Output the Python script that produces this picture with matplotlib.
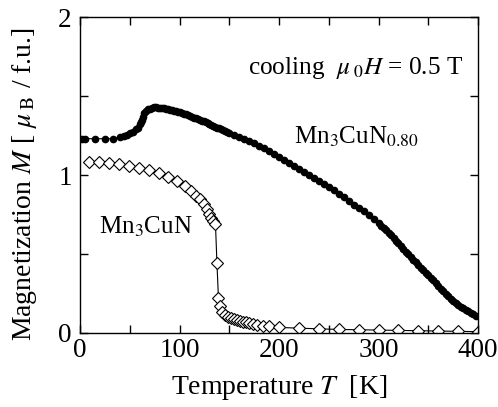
import numpy as np
import matplotlib
matplotlib.use('Agg')
from matplotlib import pyplot as plt
from matplotlib.ticker import MultipleLocator, FuncFormatter

# Mn3CuN0.80 (filled circles)
t_080 = [2, 5, 15, 25, 33, 40, 44, 47, 50, 53, 56, 58, 60, 61, 62, 63, 64, 66, 68,
         70, 72, 74, 76, 78, 80, 82, 84, 86, 88, 90, 92, 94, 96, 98, 100,
         102, 104, 106, 108, 110, 112, 114, 116, 118, 120, 122, 124, 126, 128, 130,
         132, 134, 136, 138, 140, 142, 144, 146, 148, 150,
         155, 160, 165, 170, 175, 180, 185, 190, 195, 200, 205, 210, 215, 220, 225,
         230, 235, 240, 245, 250, 255, 260, 265, 270, 275, 280, 285, 290, 295, 300,
         302.5, 305, 307.5, 310, 312.5, 315, 317.5, 320, 322.5, 325, 327.5, 330,
         332.5, 335, 337.5, 340, 342.5, 345, 347.5, 350, 352.5, 355, 357.5, 360,
         362.5, 365, 367.5, 370, 372.5, 375, 377.5, 380, 382.5, 385, 387.5, 390,
         392.5, 395, 397.5]
m_080 = [1.23, 1.23, 1.23, 1.23, 1.23, 1.24, 1.245, 1.255, 1.265, 1.275, 1.29, 1.30, 1.32,
         1.335, 1.35, 1.37, 1.39, 1.405, 1.415,
         1.42, 1.425, 1.428, 1.428, 1.427, 1.426, 1.424, 1.422, 1.42, 1.417, 1.414,
         1.411, 1.408, 1.405, 1.402, 1.399,
         1.394, 1.389, 1.384, 1.379, 1.374, 1.369, 1.364, 1.359, 1.354, 1.349, 1.344,
         1.339, 1.333, 1.328, 1.322,
         1.317, 1.311, 1.306, 1.300, 1.295, 1.289, 1.284, 1.278, 1.272, 1.267,
         1.253, 1.240, 1.227, 1.213, 1.200, 1.185, 1.170, 1.152, 1.133, 1.115, 1.095,
         1.077, 1.057, 1.037, 1.017,
         1.0, 0.98, 0.962, 0.942, 0.922, 0.902, 0.882, 0.858, 0.835, 0.812, 0.792,
         0.770, 0.745, 0.720, 0.695,
         0.68, 0.665, 0.65, 0.635, 0.62, 0.602, 0.585, 0.567, 0.548, 0.53, 0.513,
         0.497, 0.48, 0.463, 0.447, 0.43, 0.414, 0.398, 0.382, 0.366, 0.35, 0.334,
         0.316, 0.298, 0.28, 0.263, 0.247, 0.232, 0.217, 0.203, 0.19, 0.178, 0.167,
         0.156, 0.146, 0.136, 0.126, 0.117, 0.108]

# Mn3CuN (open diamonds)
t_cun = [9, 19, 29, 39, 49, 59, 69, 79, 88, 97, 105, 111, 116, 120, 124, 127, 130,
         132, 134, 136, 137.5, 139, 141, 143, 146, 149, 152, 155, 158, 161, 164, 167,
         170, 174, 178, 184, 190, 200, 220, 240, 260, 280, 300, 320, 340, 360, 380, 400]
m_cun = [1.08, 1.08, 1.075, 1.068, 1.057, 1.045, 1.03, 1.01, 0.99, 0.96, 0.93, 0.90,
         0.87, 0.845, 0.815, 0.785, 0.755, 0.73, 0.71, 0.69, 0.44, 0.22, 0.17, 0.135,
         0.115, 0.10, 0.093, 0.087, 0.082, 0.077, 0.072, 0.067, 0.062, 0.057, 0.052,
         0.046, 0.041, 0.035, 0.03, 0.026, 0.022, 0.02, 0.018, 0.016, 0.014, 0.012,
         0.01, 0.008]

plt.rcParams['font.family'] = 'serif'
plt.rcParams['font.serif'] = ['Liberation Serif', 'DejaVu Serif']
plt.rcParams['mathtext.fontset'] = 'stix'

fig = plt.figure(figsize=(4.98, 4.07), dpi=100)
ax = fig.add_axes([0.161, 0.182, 0.799, 0.776])

ax.plot(t_080, m_080, '-o', color='black', lw=0.8, ms=4.5, mfc='black', mec='black')
ax.plot(t_cun, m_cun, '-D', color='black', lw=0.8, ms=6, mfc='white', mec='black',
        mew=0.8)

ax.set_xlim(0, 400)
ax.set_ylim(0, 2)
ax.xaxis.set_major_locator(MultipleLocator(50))
ax.yaxis.set_major_locator(MultipleLocator(0.5))
ax.xaxis.set_major_formatter(FuncFormatter(lambda v, p: '%d' % v if v % 100 == 0 else ''))
ax.yaxis.set_major_formatter(FuncFormatter(lambda v, p: '%d' % v if v % 1 == 0 else ''))
ax.tick_params(direction='in', top=True, right=True, length=6, width=1,
               labelsize=19.5)
ax.tick_params(axis='x', pad=4)
ax.tick_params(axis='y', pad=6)
for s in ax.spines.values():
    s.set_linewidth(1)

ax.set_xlabel(r'Temperature $T$  [K]', fontsize=20)
ax.set_ylabel(r'Magnetization $M$ [ $\mu_{\;\rm B}$ / f.u.]', fontsize=20)
ax.xaxis.set_label_coords(0.5, -0.128)
ax.yaxis.set_label_coords(-0.103, 0.47)

ax.text(385, 1.68, r'cooling  $\mu_{\;0}H$ = 0.5 T', fontsize=18.2, ha='right', va='center')
ax.text(215, 1.24, r'Mn$_3$CuN$_{0.80}$', fontsize=18, ha='left', va='center')
ax.text(19, 0.67, r'Mn$_3$CuN', fontsize=18, ha='left', va='center')

fig.savefig('out.png', dpi=100)
